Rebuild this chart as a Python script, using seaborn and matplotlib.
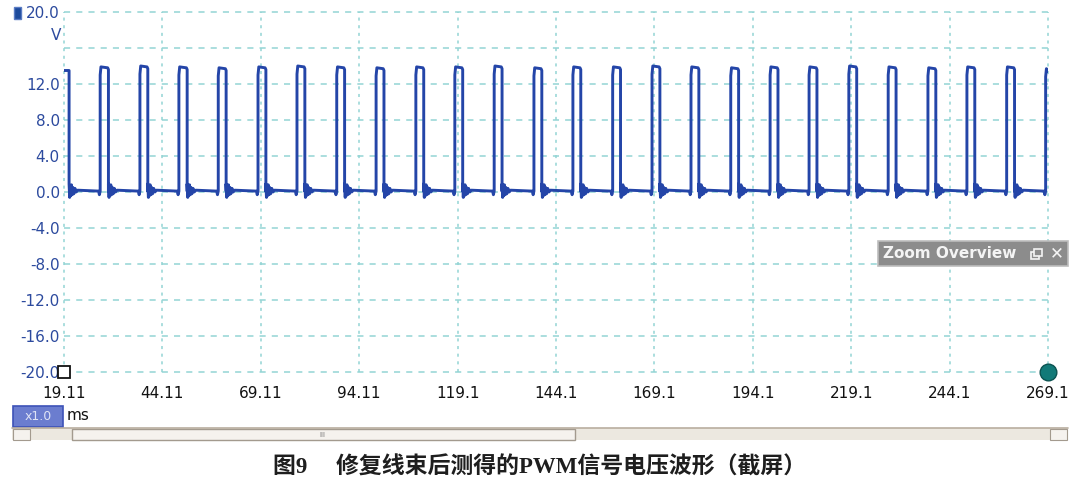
import numpy as np
import pandas as pd
import matplotlib
matplotlib.use('Agg')
import matplotlib.pyplot as plt
import seaborn as sns
from matplotlib.patches import Rectangle

# time axis (ms) and voltage axis (V)
t_start = 19.11
t_end = 269.1
x_ticks = [19.11, 44.11, 69.11, 94.11, 119.1, 144.1, 169.1, 194.1, 219.1, 244.1, 269.1]
x_labels = ['19.11', '44.11', '69.11', '94.11', '119.1', '144.1', '169.1', '194.1', '219.1', '244.1', '269.1']
y_ticks = [-20, -16, -12, -8, -4, 0, 4, 8, 12, 16, 20]
y_labels = ['-20.0', '-16.0', '-12.0', '-8.0', '-4.0', '0.0', '4.0', '8.0', '12.0', '', '20.0']

# PWM pulses
first_fall = 20.4
first_high = 13.5
rise_ms = [28.3, 38.4, 48.3, 58.3, 68.4, 78.3, 88.4, 98.4, 108.5, 118.4, 128.4, 138.5, 148.4,
           158.5, 168.5, 178.4, 188.5, 198.5, 208.4, 218.5, 228.5, 238.6, 248.5, 258.6, 268.5]
fall_ms = [30.4, 40.4, 50.4, 60.3, 70.4, 80.3, 90.4, 100.4, 110.5, 120.4, 130.4, 140.5, 150.4,
           160.5, 170.5, 180.4, 190.5, 200.5, 210.4, 220.5, 230.5, 240.6, 250.5, 260.6]
high_v = [13.6, 13.7, 13.6, 13.5, 13.6, 13.7, 13.6, 13.5, 13.6, 13.6, 13.7, 13.5, 13.6,
          13.6, 13.7, 13.6, 13.5, 13.6, 13.6, 13.7, 13.6, 13.5, 13.6, 13.6, 13.4]
# ringing on the low level just after each falling edge
ring_dt = [0.0, 0.15, 0.3, 0.45, 0.6, 0.8, 1.0, 1.2, 1.5, 1.8, 2.2]
ring_v = [0.9, -0.6, 0.7, -0.4, 0.8, -0.3, 0.5, -0.2, 0.4, 0.0, 0.2]
low_v = 0.1
pre_rise_v = -0.3

# build the trace
t, v = [t_start, first_fall], [first_high, first_high]
falls = [first_fall] + fall_ms
for i, r in enumerate(rise_ms):
    f = falls[i]
    t += [f + d for d in ring_dt]
    v += ring_v
    t += [r - 0.4, r - 0.2, r, r, r + 0.2]
    v += [low_v, pre_rise_v, low_v, high_v[i] - 0.6, high_v[i] + 0.3]
    if i < len(fall_ms):
        t += [fall_ms[i] - 0.2, fall_ms[i]]
        v += [high_v[i] + 0.2, high_v[i]]
        t += [fall_ms[i]]
        v += [low_v]
    else:
        t += [t_end]
        v += [high_v[i]]
wave = pd.DataFrame({'ms': t, 'V': v})

blue = '#2445a8'
grid_c = '#93d4d4'
label_c = '#2c4a9e'

sns.set_style('white')
plt.rcParams['font.family'] = ['DejaVu Sans', 'Noto Sans CJK SC']

fig = plt.figure(figsize=(10.8, 4.91), dpi=100)
ax = fig.add_axes([64 / 1080, 1 - 372 / 491, 984 / 1080, 360 / 491])

sns.lineplot(data=wave, x='ms', y='V', sort=False, estimator=None, color=blue,
             linewidth=2.1, ax=ax)

ax.set_xlim(t_start, t_end)
ax.set_ylim(-20, 20)
ax.set_xticks(x_ticks)
ax.set_xticklabels(x_labels)
ax.set_yticks(y_ticks)
ax.set_yticklabels(y_labels)
ax.tick_params(axis='x', length=0, pad=10, labelsize=11, labelcolor='#111111')
ax.tick_params(axis='y', length=0, pad=3, labelsize=11, labelcolor=label_c)
ax.set_xlabel('')
ax.set_ylabel('')
ax.xaxis.grid(True, color=grid_c, linestyle=(0, (2, 3)), linewidth=1.1)
ax.yaxis.grid(True, color=grid_c, linestyle=(0, (4, 4)), linewidth=1.1)
ax.set_axisbelow(True)
for gl in ax.get_xgridlines() + ax.get_ygridlines():
    gl.set_clip_on(False)
for s in ax.spines.values():
    s.set_visible(False)

ax.text(-0.003, 17.4, 'V', transform=ax.get_yaxis_transform(), ha='right', va='center',
        fontsize=11, color=label_c)

# cursor markers at the bottom corners
ax.plot([t_start], [-20], marker='s', markersize=8, markerfacecolor='white',
        markeredgecolor='#111111', markeredgewidth=1.3, clip_on=False, zorder=5)
ax.plot([t_end], [-20], marker='o', markersize=12, markerfacecolor='#127a78',
        markeredgecolor='#0b5351', markeredgewidth=1, clip_on=False, zorder=5)


def fx(x):
    return x / 1080


def fy(y):
    return 1 - y / 491


# small channel square top-left
fig.patches.append(Rectangle((fx(14), fy(19)), 7 / 1080, 12 / 491, transform=fig.transFigure,
                             facecolor='#1c4a9c', edgecolor='#5a7cc4', linewidth=1))

# x1.0 box and unit
fig.patches.append(Rectangle((fx(13), fy(427)), 50 / 1080, 21 / 491, transform=fig.transFigure,
                             facecolor='#6b7dcf', edgecolor='#3d52b8', linewidth=1.2))
fig.text(fx(38), fy(417), 'x1.0', ha='center', va='center', fontsize=9, color='#dfe3f5')
fig.text(fx(67), fy(416), 'ms', ha='left', va='center', fontsize=11, color='#111111')

# scroll bar
fig.patches.append(Rectangle((fx(12), fy(440)), 1056 / 1080, 12 / 491, transform=fig.transFigure,
                             facecolor='#ece8e0', edgecolor='none'))
fig.lines.append(plt.Line2D([fx(12), fx(1068)], [fy(428), fy(428)], transform=fig.transFigure,
                            color='#b9ae9f', linewidth=1.2))
fig.patches.append(Rectangle((fx(72), fy(440)), 503 / 1080, 11 / 491, transform=fig.transFigure,
                             facecolor='#f5f2ee', edgecolor='#a39a8e', linewidth=1))
fig.patches.append(Rectangle((fx(13), fy(440)), 17 / 1080, 11 / 491, transform=fig.transFigure,
                             facecolor='#f5f2ee', edgecolor='#a39a8e', linewidth=0.8))
fig.patches.append(Rectangle((fx(1050), fy(440)), 17 / 1080, 11 / 491, transform=fig.transFigure,
                             facecolor='#f5f2ee', edgecolor='#a39a8e', linewidth=0.8))
fig.text(fx(322), fy(435), 'III', ha='center', va='center', fontsize=5, color='#777777')

# Zoom Overview label
fig.patches.append(Rectangle((fx(878), fy(266)), 190 / 1080, 25 / 491, transform=fig.transFigure,
                             facecolor='#8c8c8c', edgecolor='#bdbdbd', linewidth=1.2))
fig.text(fx(883), fy(253.5), 'Zoom Overview', ha='left', va='center', fontsize=11,
         fontweight='bold', color='#f4f4f4')
fig.patches.append(Rectangle((fx(1031), fy(259)), 8 / 1080, 7 / 491, transform=fig.transFigure,
                             facecolor='none', edgecolor='#f4f4f4', linewidth=1.2))
fig.patches.append(Rectangle((fx(1034), fy(256)), 8 / 1080, 7 / 491, transform=fig.transFigure,
                             facecolor='#8c8c8c', edgecolor='#f4f4f4', linewidth=1.2))
fig.text(fx(1057), fy(253.5), '\u2715', ha='center', va='center', fontsize=12, color='#f4f4f4')

# caption
fig.text(fx(540), fy(468), '图9\u3000 修复线束后测得的PWM信号电压波形（截屏）', ha='center', va='center',
         fontsize=16.5, fontweight='bold', color='#1e1e1e',
         family=['Liberation Serif', 'Noto Sans CJK SC'])

fig.savefig('out.png', dpi=100)
